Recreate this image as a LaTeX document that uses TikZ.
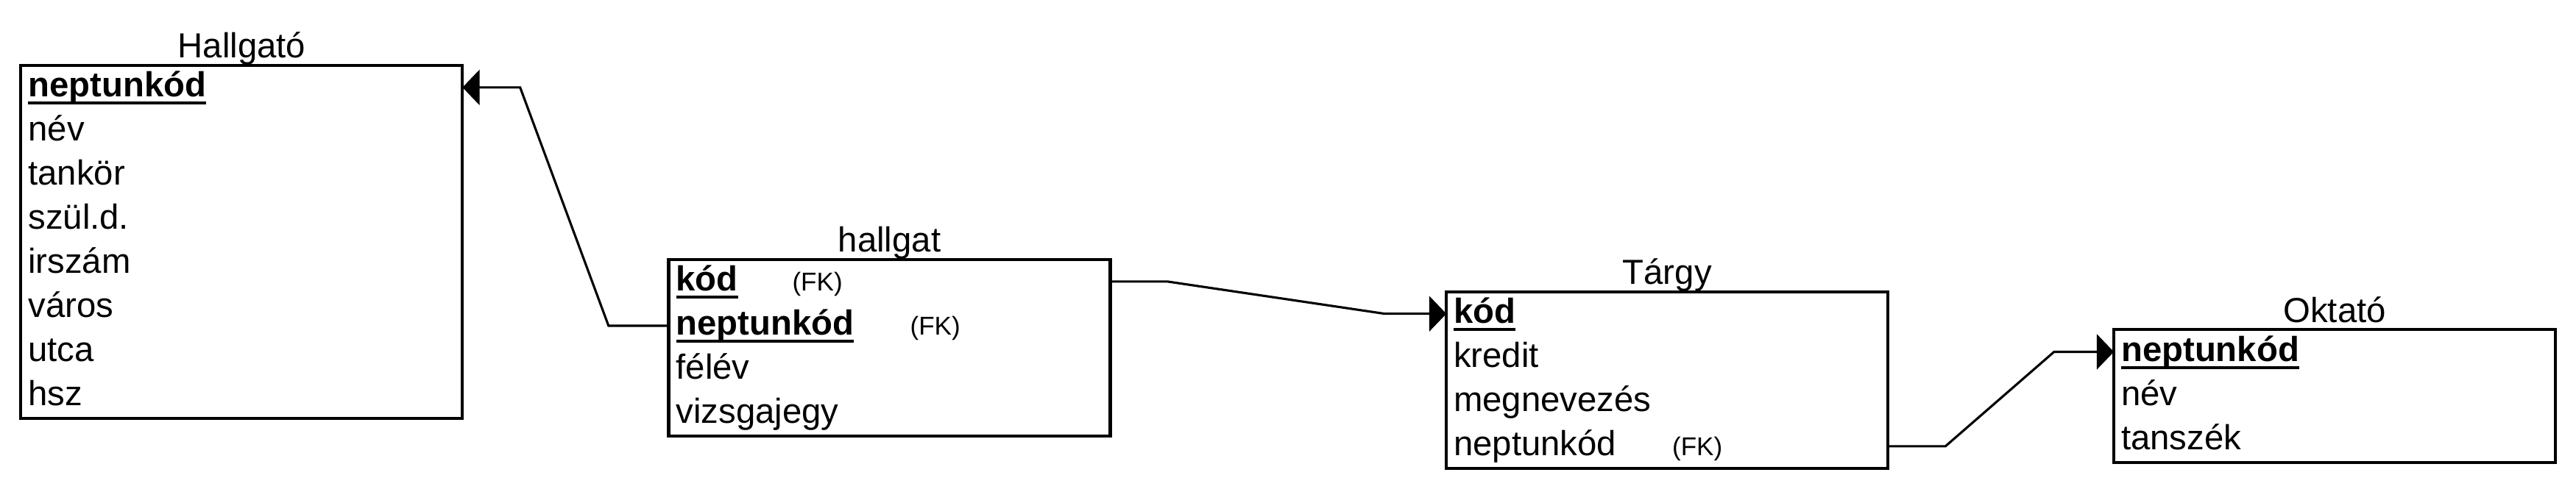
\documentclass[tikz,border=0pt]{standalone}
\usepackage{fontspec}
\setmainfont{Liberation Sans}
\usetikzlibrary{arrows.meta, positioning}

\newcommand\fstrut{\rule[-7.8pt]{0pt}{26.9pt}}
\newcommand\pkey[1]{\setbox0\hbox{\bfseries #1}\rlap{\rule[-4.8pt]{\wd0}{1.8pt}}\box0}
\newcommand\fkmark{{\fontsize{15.7}{18}\selectfont (FK)}}

\begin{document}
\begin{tikzpicture}[
  x=1pt, y=1pt,
  font=\fontsize{21.2}{26.9}\selectfont,
  entity/.style={draw, line width=1.8pt, anchor=north west, align=left, text width=259.8pt,
    inner xsep=4.5pt, inner ysep=0pt, outer sep=0pt,
    execute at begin node=\fstrut, execute at end node=\fstrut},
  entname/.style={anchor=base, inner sep=0pt},
  arrow/.style={-{Triangle[length=10.4pt, width=21.4pt]}, line width=1.4pt}
]
\useasboundingbox (0,0) rectangle (1568,-297.5);

\node[entity] (hallgato) at (12.7,-39.8) {\pkey{neptunkód}\\ név\\ tankör\\ szül.d.\\ irszám\\ város\\ utca\\ hsz};
\node[entity] (hallgat) at (407,-158.1) {\makebox[70.8pt][l]{\pkey{kód}}\fkmark\\ \makebox[142.5pt][l]{\pkey{neptunkód}}\fkmark\\ félév\\ vizsgajegy};
\node[entity] (targy) at (880.4,-177.7) {\pkey{kód}\\ kredit\\ megnevezés\\ \makebox[133pt][l]{neptunkód}\fkmark};
\node[entity] (oktato) at (1286.7,-200.9) {\pkey{neptunkód}\\ név\\ tanszék};

\node[above=4.5pt of hallgato.north, entname] (hallgato-name) {Hallgató};
\node[above=4.5pt of hallgat.north, entname] (hallgat-name) {hallgat};
\node[above=4.5pt of targy.north, entname] (targy-name) {Tárgy};
\node[above=4.5pt of oktato.north, entname] (oktato-name) {Oktató};

% row anchors for the keys
\coordinate (hallgato-nk) at ([yshift=-13.45pt]hallgato.north east);
\coordinate (hallgat-kod) at ([yshift=-13.45pt]hallgat.north east);
\coordinate (hallgat-nk) at ([yshift=-40.35pt]hallgat.north west);
\coordinate (targy-kod) at ([yshift=-13.45pt]targy.north west);
\coordinate (targy-nk) at ([yshift=-94.15pt]targy.north east);
\coordinate (oktato-nk) at ([yshift=-13.45pt]oktato.north west);

\draw[arrow] (hallgat-nk) -- ++(-36.6,0) -- ([xshift=35.1]hallgato-nk) -- (hallgato-nk);
\draw[arrow] (hallgat-kod) -- ++(35,0) -- ([xshift=-37.5]targy-kod) -- (targy-kod);
\draw[arrow] (targy-nk) -- ++(35,0) -- ([xshift=-36.4]oktato-nk) -- (oktato-nk);
\end{tikzpicture}
\end{document}
